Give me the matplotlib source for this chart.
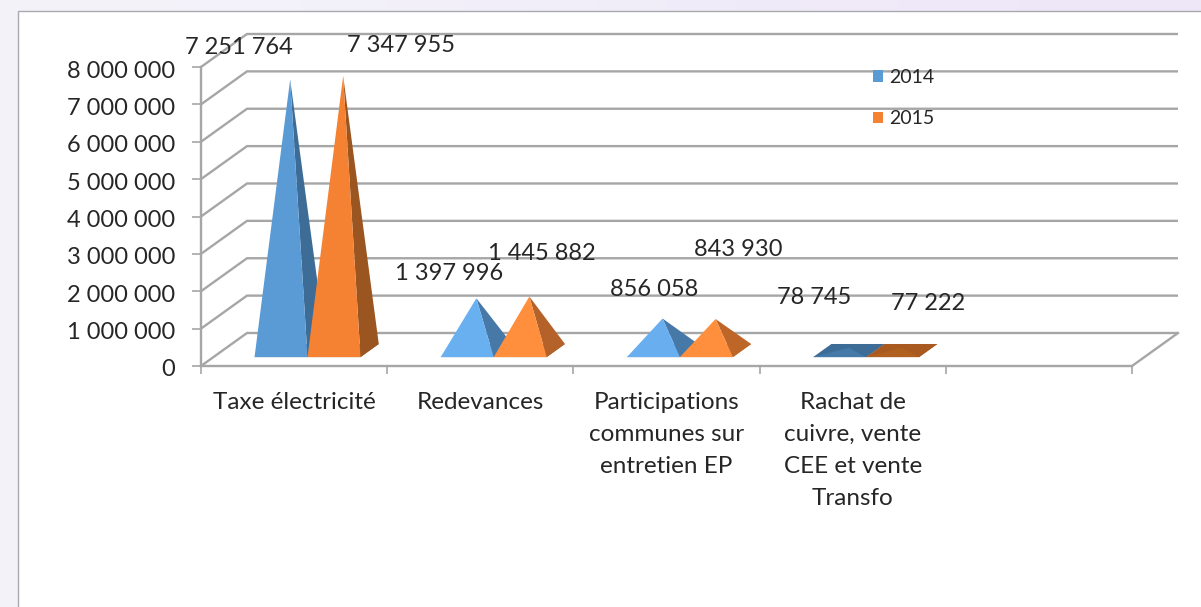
import numpy as np
import matplotlib
matplotlib.use("Agg")
import matplotlib.pyplot as plt
from matplotlib.patches import Polygon, Rectangle, Patch
from matplotlib.transforms import Affine2D, ScaledTranslation

# ---- data
categories = ["Taxe électricité", "Redevances",
              "Participations\ncommunes sur\nentretien EP",
              "Rachat de\ncuivre, vente\nCEE et vente\nTransfo"]
series_names = ["2014", "2015"]
values_2014 = [7251764, 1397996, 856058, 78745]
values_2015 = [7347955, 1445882, 843930, 77222]
y_ticks = [0, 1000000, 2000000, 3000000, 4000000, 5000000, 6000000, 7000000, 8000000]
n_slots = 5

# ---- styles (per category)
front_2014 = ["#5b9bd5", "#69b0f0", "#69aeee", "#4479a8"]
side_2014 = ["#3d6c96", "#4679a8", "#4679a8", "#3d6c96"]
front_2015 = ["#f58233", "#ff8f3d", "#ff8f3d", "#b0601f"]
side_2015 = ["#9b5520", "#b5622a", "#bd6628", "#a85a20"]
legend_2014 = "#5b9bd5"
legend_2015 = "#f58233"
grid_col = "#a6a6a6"
text_col = "#262626"
label_px = [(239, 48), (401, 46), (449, 273), (542, 254),
            (654, 289), (738, 249), (814, 297), (928, 303)]

plt.rcParams["font.family"] = ["Lato", "DejaVu Sans"]
W, H = 1201, 607
fig = plt.figure(figsize=(W / 100, H / 100), dpi=100)
px = Affine2D().scale(1 / W, -1 / H).translate(0, 1) + fig.transFigure

# page background and white panel
bg = fig.add_axes([0, 0, 1, 1], zorder=0)
bg.axis("off")
bg.imshow([[0.0, 1.0]], extent=(0, 1, 0, 1), aspect="auto", interpolation="bicubic",
          cmap=matplotlib.colors.LinearSegmentedColormap.from_list("b", ["#f4f3fa", "#eee7f8"]))
fig.add_artist(Rectangle((18, 11), 1300, 700, transform=px, facecolor="white",
                         edgecolor="#a9a9b0", linewidth=1.0, zorder=1))

ax = fig.add_axes([201 / W, (H - 366) / H, 931 / W, 299 / H], zorder=2)
ax.patch.set_alpha(0)
ax.set_xlim(0, n_slots)
ax.set_ylim(0, 8000000)

SLOT_PX = 931 / n_slots
DX = 46 / SLOT_PX
DY = 33 / 299 * 8000000
D_FRONT, D_BACK = 0.27, 0.667
BAR_W = 53 / SLOT_PX
BAR_SHIFT = 1 / SLOT_PX


def proj(x, y, d):
    return (x + d * DX, y + d * DY)


# walls
for v in y_ticks:
    pts = [proj(0, v, 0), proj(0, v, 1), proj(n_slots, v, 1)]
    ax.plot(*zip(*pts), color=grid_col, lw=1.7, clip_on=False, zorder=1,
            solid_capstyle="butt", solid_joinstyle="miter")
ax.plot(*zip(proj(n_slots, 0, 0), proj(n_slots, 0, 1)), color=grid_col, lw=1.7,
        clip_on=False, zorder=1)

# pyramids
for j, (vals, fronts, sides) in enumerate([(values_2014, front_2014, side_2014),
                                           (values_2015, front_2015, side_2015)]):
    for i, v in enumerate(vals):
        x0 = i + 0.5 + (j - 1) * BAR_W + BAR_SHIFT
        x1 = x0 + BAR_W
        apex = proj((x0 + x1) / 2, v, (D_FRONT + D_BACK) / 2)
        fl, fr = proj(x0, 0, D_FRONT), proj(x1, 0, D_FRONT)
        bl, br = proj(x0, 0, D_BACK), proj(x1, 0, D_BACK)
        z = 3 + j
        ax.add_patch(Polygon([fl, fr, br, bl], facecolor=sides[i], edgecolor="none",
                             clip_on=False, zorder=z))
        ax.add_patch(Polygon([fr, br, apex], facecolor=sides[i], edgecolor="none",
                             clip_on=False, zorder=z))
        ax.add_patch(Polygon([fl, fr, apex], facecolor=fronts[i], edgecolor="none",
                             clip_on=False, zorder=z))

# axes
for s in ["top", "right"]:
    ax.spines[s].set_visible(False)
for s in ["left", "bottom"]:
    ax.spines[s].set_color(grid_col)
    ax.spines[s].set_linewidth(1.7)
ax.set_yticks(y_ticks)
ax.set_yticklabels([f"{v:,}".replace(",", " ") for v in y_ticks], fontsize=17, color=text_col)
ax.tick_params(axis="y", length=6.5, width=1.2, color=grid_col, pad=12)
down_2px = ScaledTranslation(0, -2 / 100, fig.dpi_scale_trans)
for lab in ax.get_yticklabels():
    lab.set_transform(lab.get_transform() + down_2px)
ax.set_xticks(range(n_slots + 1))
ax.set_xticklabels([])
ax.tick_params(axis="x", which="major", length=6, width=1.2, color=grid_col)
ax.set_xticks(np.arange(len(categories)) + 0.5, minor=True)
ax.set_xticklabels(categories, minor=True, fontsize=17.5, color=text_col, linespacing=1.65)
ax.tick_params(axis="x", which="minor", length=0, pad=18.5)

# data labels
all_values = [v for pair in zip(values_2014, values_2015) for v in pair]
for v, (lx, ly) in zip(all_values, label_px):
    fig.text(lx, ly, f"{v:,}".replace(",", " "), transform=px, ha="center", va="center",
             fontsize=17, color=text_col, zorder=5)

# legend
handles = [Patch(facecolor=legend_2014, label=series_names[0]),
           Patch(facecolor=legend_2015, label=series_names[1])]
leg = fig.legend(handles=handles, loc="upper left", bbox_to_anchor=(857, 53),
                 bbox_transform=px, frameon=False, fontsize=14, labelcolor=text_col,
                 handlelength=0.55, handleheight=0.55, handletextpad=0.3,
                 labelspacing=1.28, borderpad=0.3)
leg.set_zorder(6)

fig.savefig("out.png", dpi=100)
